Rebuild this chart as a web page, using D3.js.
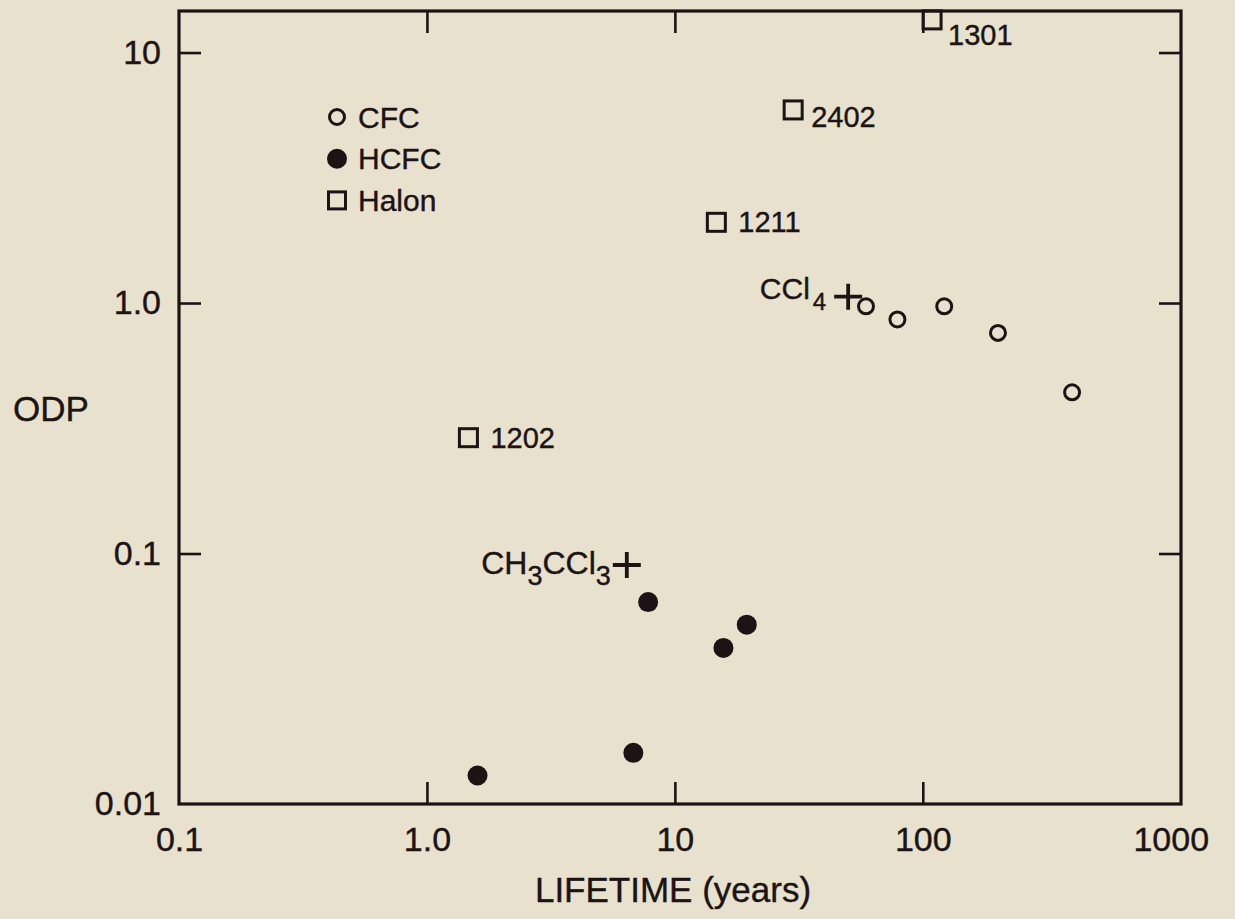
<!DOCTYPE html>
<html>
<head>
<meta charset="utf-8">
<script src="https://cdn.jsdelivr.net/npm/d3@7"></script>
<style>
  body { margin: 0; background: #e8e1cd; }
  svg { display: block; font-family: "Liberation Sans", Arial, Helvetica, sans-serif; }
  svg text { stroke: #1c1414; stroke-width: 0.4; }
  .axis path { display: none; }
  .axis line { stroke: #1c1414; stroke-width: 2.6; }
  .axis text { fill: #1c1414; font-size: 34px; font-family: "Liberation Sans", Arial, sans-serif; }
</style>
</head>
<body>
<svg id="canvas" width="1235" height="919"></svg>
<script>
// chart values
const cfcLife = [59, 79, 122, 201, 400]
const cfcOdp = [0.97, 0.86, 0.97, 0.76, 0.44]

const hcfcLife = [1.6, 6.8, 7.8, 15.7, 19.5]
const hcfcOdp = [0.013, 0.016, 0.064, 0.042, 0.052]

const halonNames = ['1301', '2402', '1211', '1202']
const halonLife = [109, 30, 14.7, 1.47]
const halonOdp = [13.5, 5.9, 2.1, 0.29]

const otherNames = ['CCl4', 'CH3CCl3']
const otherLife = [50, 6.4]
const otherOdp = [1.06, 0.09]

const xTicks = [0.1, 1, 10, 100, 1000]
const xTickLabels = ['0.1', '1.0', '10', '100', '1000']
const yTicks = [0.01, 0.1, 1, 10]
const yTickLabels = ['0.01', '0.1', '1.0', '10']

const legendNames = ['CFC', 'HCFC', 'Halon']

const ink = '#1c1414'
let canvas = d3.select('#canvas')

let x = d3.scaleLog().domain([0.1, 1100]).range([179, 1181])
let y = d3.scaleLog().domain([0.01, 14.65]).range([804, 11])

// axes: ticks point inward
let xFmt = (d) => xTickLabels[xTicks.indexOf(d)]
let yFmt = (d) => yTickLabels[yTicks.indexOf(d)]

let axisB = canvas.append('g').attr('class', 'axis')
    .attr('transform', 'translate(0,' + y(0.01) + ')')
    .call(d3.axisBottom(x).tickValues(xTicks).tickFormat(xFmt).tickSize(-22).tickPadding(23))
let axisT = canvas.append('g').attr('class', 'axis')
    .attr('transform', 'translate(0,' + y(14.65) + ')')
    .call(d3.axisTop(x).tickValues([1, 10, 100]).tickFormat('').tickSize(-22))
let axisL = canvas.append('g').attr('class', 'axis')
    .attr('transform', 'translate(' + x(0.1) + ',0)')
    .call(d3.axisLeft(y).tickValues(yTicks).tickFormat(yFmt).tickSize(-22).tickPadding(18))
let axisR = canvas.append('g').attr('class', 'axis')
    .attr('transform', 'translate(' + x(1100) + ',0)')
    .call(d3.axisRight(y).tickValues([0.1, 1, 10]).tickFormat('').tickSize(-22))

// hide the tick lines that sit on the frame
axisB.selectAll('.tick line').filter((d) => d === 0.1 || d === 1000).remove()
axisL.selectAll('.tick line').filter((d) => d === 0.01).remove()

// frame
canvas.append('rect')
    .attr('x', x(0.1)).attr('y', y(14.65))
    .attr('width', x(1100) - x(0.1)).attr('height', y(0.01) - y(14.65))
    .attr('fill', 'none').attr('stroke', ink).attr('stroke-width', 3.2)

// axis titles
canvas.append('text')
    .attr('x', 673).attr('y', 902)
    .attr('text-anchor', 'middle')
    .attr('font-size', 35).attr('fill', ink)
    .text('LIFETIME (years)')
canvas.append('text')
    .attr('x', 51).attr('y', 421)
    .attr('text-anchor', 'middle')
    .attr('font-size', 35).attr('fill', ink)
    .text('ODP')

// CFC: open circles
canvas.selectAll('.cfc')
    .data(d3.zip(cfcLife, cfcOdp))
    .enter().append('circle')
    .attr('class', 'cfc')
    .attr('cx', (d) => x(d[0])).attr('cy', (d) => y(d[1]))
    .attr('r', 7.5)
    .attr('fill', 'none').attr('stroke', ink).attr('stroke-width', 3)

// HCFC: filled circles
canvas.selectAll('.hcfc')
    .data(d3.zip(hcfcLife, hcfcOdp))
    .enter().append('circle')
    .attr('class', 'hcfc')
    .attr('cx', (d) => x(d[0])).attr('cy', (d) => y(d[1]))
    .attr('r', 10)
    .attr('fill', ink)

// Halons: open squares with labels
let halonOffsets = {
    '1301': [16, 25],
    '2402': [18, 17],
    '1211': [22, 10],
    '1202': [22, 10]
}
let halons = canvas.selectAll('.halon')
    .data(d3.zip(halonNames, halonLife, halonOdp))
    .enter().append('g')
    .attr('class', 'halon')
    .attr('transform', (d) => 'translate(' + x(d[1]) + ',' + y(d[2]) + ')')
halons.append('rect')
    .attr('x', -9).attr('y', -9).attr('width', 18).attr('height', 18)
    .attr('fill', 'none').attr('stroke', ink).attr('stroke-width', 3)
halons.append('text')
    .attr('x', (d) => halonOffsets[d[0]][0])
    .attr('y', (d) => halonOffsets[d[0]][1])
    .attr('font-size', 29).attr('fill', ink)
    .text((d) => d[0])

// CCl4 and CH3CCl3: plus signs
let others = canvas.selectAll('.other')
    .data(d3.zip(otherNames, otherLife, otherOdp))
    .enter().append('g')
    .attr('class', 'other')
    .attr('transform', (d) => 'translate(' + x(d[1]) + ',' + y(d[2]) + ')')
others.append('path')
    .attr('d', 'M-14,0H14M0,-13V13')
    .attr('stroke', ink).attr('stroke-width', 3.8)

let ccl4 = canvas.append('text')
    .attr('x', x(otherLife[0]) - 22).attr('y', y(otherOdp[0]) + 2)
    .attr('text-anchor', 'end').attr('font-size', 30).attr('fill', ink)
ccl4.append('tspan').text('CCl')
ccl4.append('tspan').attr('dx', 3).attr('dy', 11).attr('font-size', 24).text('4')

let ch3 = canvas.append('text')
    .attr('x', x(otherLife[1]) - 16).attr('y', y(otherOdp[1]) + 9)
    .attr('text-anchor', 'end').attr('font-size', 32).attr('fill', ink)
ch3.append('tspan').text('CH')
ch3.append('tspan').attr('dy', 11).attr('font-size', 27).text('3')
ch3.append('tspan').attr('dy', -11).text('CCl')
ch3.append('tspan').attr('dy', 11).attr('font-size', 27).text('3')

// legend
let legend = canvas.selectAll('.legend')
    .data(legendNames)
    .enter().append('g')
    .attr('class', 'legend')
    .attr('transform', (d, i) => 'translate(337,' + (117 + i * 41.7) + ')')
legend.each(function(d, i) {
    let g = d3.select(this)
    if (i === 0) {
        g.append('circle').attr('r', 7.5).attr('fill', 'none').attr('stroke', ink).attr('stroke-width', 3)
    } else if (i === 1) {
        g.append('circle').attr('r', 10).attr('fill', ink)
    } else {
        g.append('rect').attr('x', -8.5).attr('y', -8.5).attr('width', 17).attr('height', 17)
         .attr('fill', 'none').attr('stroke', ink).attr('stroke-width', 3)
    }
})
legend.append('text')
    .attr('x', 21).attr('y', 10.5)
    .attr('font-size', 30).attr('fill', ink)
    .text((d) => d)
</script>
</body>
</html>
